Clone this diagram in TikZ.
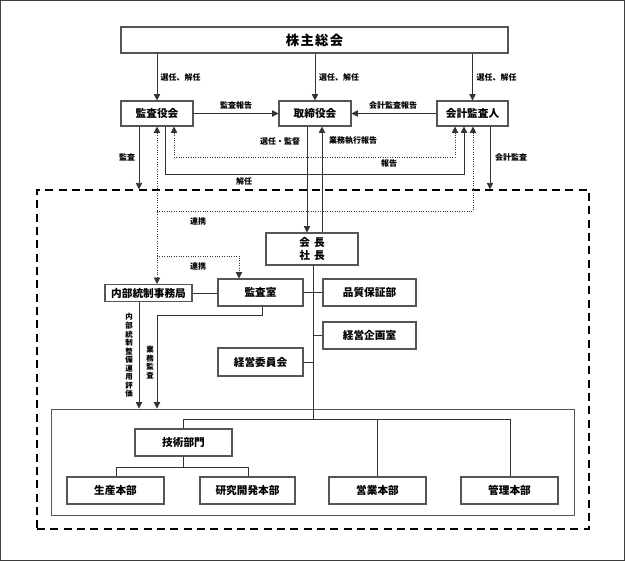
\documentclass[tikz,border=0pt]{standalone}
\usepackage{fontspec}
\setmainfont{Noto Sans CJK JP}
\usepackage{tikz}
\usetikzlibrary{arrows.meta,positioning}
\definecolor{boxgray}{HTML}{555555}
\definecolor{linegray}{HTML}{333333}
\tikzset{
  orgbox/.style={draw=boxgray,line width=0.8pt,fill=white,inner sep=0pt,font=\fontsize{8}{10}\selectfont\bfseries},
  boxsize/.style 2 args={minimum width=#1*0.75pt,minimum height=#2*0.75pt},
  grpbox/.style={draw=boxgray,line width=0.7pt,inner sep=0pt},
  dashbox/.style={draw=black,line width=1.1pt,dash pattern=on 6pt off 4pt,inner sep=0pt},
  plainedge/.style={linegray,line width=0.6pt},
  diredge/.style={plainedge,-{Triangle[length=4.8pt,width=4.8pt]}},
  dotedge/.style={plainedge,dash pattern=on 0.6pt off 1.2pt},
  dotarrow/.style={dotedge,-{Triangle[length=4.8pt,width=4.8pt]}},
  dotboth/.style={dotedge,{Triangle[length=4.8pt,width=4.8pt]}-{Triangle[length=4.8pt,width=4.8pt]}},
  elbl/.style={inner sep=0pt,font=\fontsize{6}{7}\selectfont\bfseries},
  vlbl/.style={elbl,align=center,font=\fontsize{5.6}{6.4}\selectfont\bfseries},
}

\begin{document}
\begin{tikzpicture}[x=0.75pt,y=-0.75pt]
  \useasboundingbox (0,0) rectangle (625,561);
  \draw[black!75,line width=0.9pt] (0.5,0.5) rectangle (624.5,560.5);
  % groups
  \node[dashbox,boxsize={552}{339}] (nGroup) at (313,359.5) {};
  \node[grpbox,boxsize={523}{106}] (nInner) at (312.5,462) {};
  % boxes
  \node[orgbox,boxsize={387}{26},font=\fontsize{10}{12}\selectfont\bfseries] (nAGM) at (314.5,40) {株\hspace{1pt}主\hspace{1pt}総\hspace{1pt}会};
  \node[orgbox,boxsize={72}{25}] (nKansa) at (157,113.5) {監査役会};
  \node[orgbox,boxsize={72}{25}] (nTori) at (315,113.5) {取締役会};
  \node[orgbox,boxsize={71}{25}] (nKaikei) at (472.5,113.5) {会計監査人};
  \node[orgbox,boxsize={92}{32},align=center] (nKaicho) at (312,249) {会\hspace{3pt}長\\社\hspace{3pt}長};
  \node[orgbox,boxsize={87}{17}] (nNaibu) at (148.5,293) {内部統制事務局};
  \node[orgbox,boxsize={85}{27}] (nKansashitsu) at (260.5,292.5) {監査室};
  \node[orgbox,boxsize={93}{27}] (nHinshitsu) at (369.5,292.5) {品質保証部};
  \node[orgbox,boxsize={93}{27}] (nKikaku) at (369.5,335.5) {経営企画室};
  \node[orgbox,boxsize={85}{28}] (nIinkai) at (260.5,362) {経営委員会};
  \node[orgbox,boxsize={97}{27}] (nGijutsu) at (183.5,442.5) {技術部門};
  \node[orgbox,boxsize={97}{27}] (nSeisan) at (115.5,490.5) {生産本部};
  \node[orgbox,boxsize={95}{27}] (nKenkyu) at (247.5,490.5) {研究開発本部};
  \node[orgbox,boxsize={97}{27}] (nEigyo) at (377.5,490.5) {営業本部};
  \node[orgbox,boxsize={97}{27}] (nKanri) at (509.5,490.5) {管理本部};
  % bend points
  \coordinate (cKansaDn) at (139,190);
  \coordinate (cKaikeiDn) at (490,190);
  \coordinate (cHokokuL) at (174,157);
  \coordinate (cHokokuR) at (455,157);
  \coordinate (cKaininL) at (165,174);
  \coordinate (cKaininR) at (464,174);
  \coordinate (cRenkeiL) at (157,211);
  \coordinate (cRenkeiR) at (473,211);
  \coordinate (cRenkeiB) at (157,256);
  \coordinate (cRenkeiC) at (239,256);
  \coordinate (cSenninX) at (307,180);
  \coordinate (cGyomuX) at (322,180);
  \coordinate (cHub) at (313,419);
  \coordinate (cTopL) at (183,419);
  \coordinate (cTopR) at (510,419);
  \coordinate (cSubL) at (116,467);
  \coordinate (cSubR) at (248,467);
  \coordinate (cNaibuDn) at (139,409);
  \coordinate (cGyomuA) at (262,315);
  \coordinate (cGyomuB) at (157,315);
  % top level
  \draw[diredge] (nAGM.south -| nKansa) -- (nKansa.north);
  \draw[diredge] (nAGM.south -| nTori) -- (nTori.north);
  \draw[diredge] (nAGM.south -| nKaikei) -- (nKaikei.north);
  \draw[diredge] (nKansa.east) -- (nTori.west);
  \draw[diredge] (nKaikei.west) -- (nTori.east);
  \draw[diredge] (nKansa.south -| cKansaDn) -- (nGroup.north -| cKansaDn);
  \draw[diredge] (nKaikei.south -| cKaikeiDn) -- (nGroup.north -| cKaikeiDn);
  \draw[dotboth] (nKansa.south -| cHokokuL) -- (cHokokuL) -- (cHokokuR) -- (nKaikei.south -| cHokokuR);
  \draw[diredge] (nKansa.south -| cKaininL) -- (cKaininL) -- (cKaininR) -- (nKaikei.south -| cKaininR);
  \draw[dotboth] (nKansa.south) -- (nNaibu.north -| nKansa);
  \draw[dotarrow] (cRenkeiL) -- (cRenkeiR) -- (nKaikei.south -| cRenkeiR);
  \draw[dotarrow] (cRenkeiB) -- (cRenkeiC) -- (nKansashitsu.north -| cRenkeiC);
  \draw[diredge] (nTori.south -| cSenninX) -- (nKaicho.north -| cSenninX);
  \draw[diredge] (nKaicho.north -| cGyomuX) -- (nTori.south -| cGyomuX);
  % organisation lines
  \draw[plainedge] (nKaicho.south -| cHub) -- (cHub);
  \draw[plainedge] (cTopL) -- (cTopR);
  \draw[plainedge] (cTopL) -- (nGijutsu.north -| cTopL);
  \draw[plainedge] (nEigyo.north |- cTopL) -- (nEigyo.north);
  \draw[plainedge] (cTopR) -- (nKanri.north -| cTopR);
  \draw[plainedge] (nKansashitsu.east) -- (nKansashitsu.east -| cHub);
  \draw[plainedge] (nHinshitsu.west -| cHub) -- (nHinshitsu.west);
  \draw[plainedge] (nKikaku.west -| cHub) -- (nKikaku.west);
  \draw[plainedge] (nIinkai.east) -- (nIinkai.east -| cHub);
  \draw[plainedge] (nNaibu.east) -- (nNaibu.east -| nKansashitsu.west);
  \draw[plainedge] (nGijutsu.south) -- (nGijutsu.south |- cSubL);
  \draw[plainedge] (cSubL) -- (cSubR);
  \draw[plainedge] (cSubL) -- (nSeisan.north -| cSubL);
  \draw[plainedge] (cSubR) -- (nKenkyu.north -| cSubR);
  \draw[diredge] (nNaibu.south -| cNaibuDn) -- (nInner.north -| cNaibuDn);
  \draw[diredge] (nKansashitsu.south -| cGyomuA) -- (cGyomuA) -- (cGyomuB) -- (nInner.north -| cGyomuB);
  % labels
  \node[elbl] (lSen1) at (180.5,77) {選任、解任};
  \node[elbl] (lSen2) at (339,77) {選任、解任};
  \node[elbl] (lSen3) at (496.5,77) {選任、解任};
  \node[elbl] (lKansaHokoku) at (236,105) {監査報告};
  \node[elbl] (lKaikeiHokoku) at (393,105) {会計監査報告};
  \node[elbl] (lKansa) at (127,157) {監査};
  \node[elbl] (lKaikeiKansa) at (511,157) {会計監査};
  \node[elbl] (lSennin) at (280,141) {選任・監督};
  \node[elbl] (lGyomu) at (353,141) {業務執行報告};
  \node[elbl] (lHokoku) at (389,163) {報告};
  \node[elbl] (lKainin) at (244,181) {解任};
  \node[elbl] (lRenkei1) at (198,221) {連携};
  \node[elbl] (lRenkei2) at (198,266) {連携};
  \node[vlbl] (lNaibuV) at (129,355.5) {内\\部\\統\\制\\整\\備\\運\\用\\評\\価};
  \node[vlbl] (lGyomuV) at (150,362.5) {業\\務\\監\\査};
\end{tikzpicture}
\end{document}
